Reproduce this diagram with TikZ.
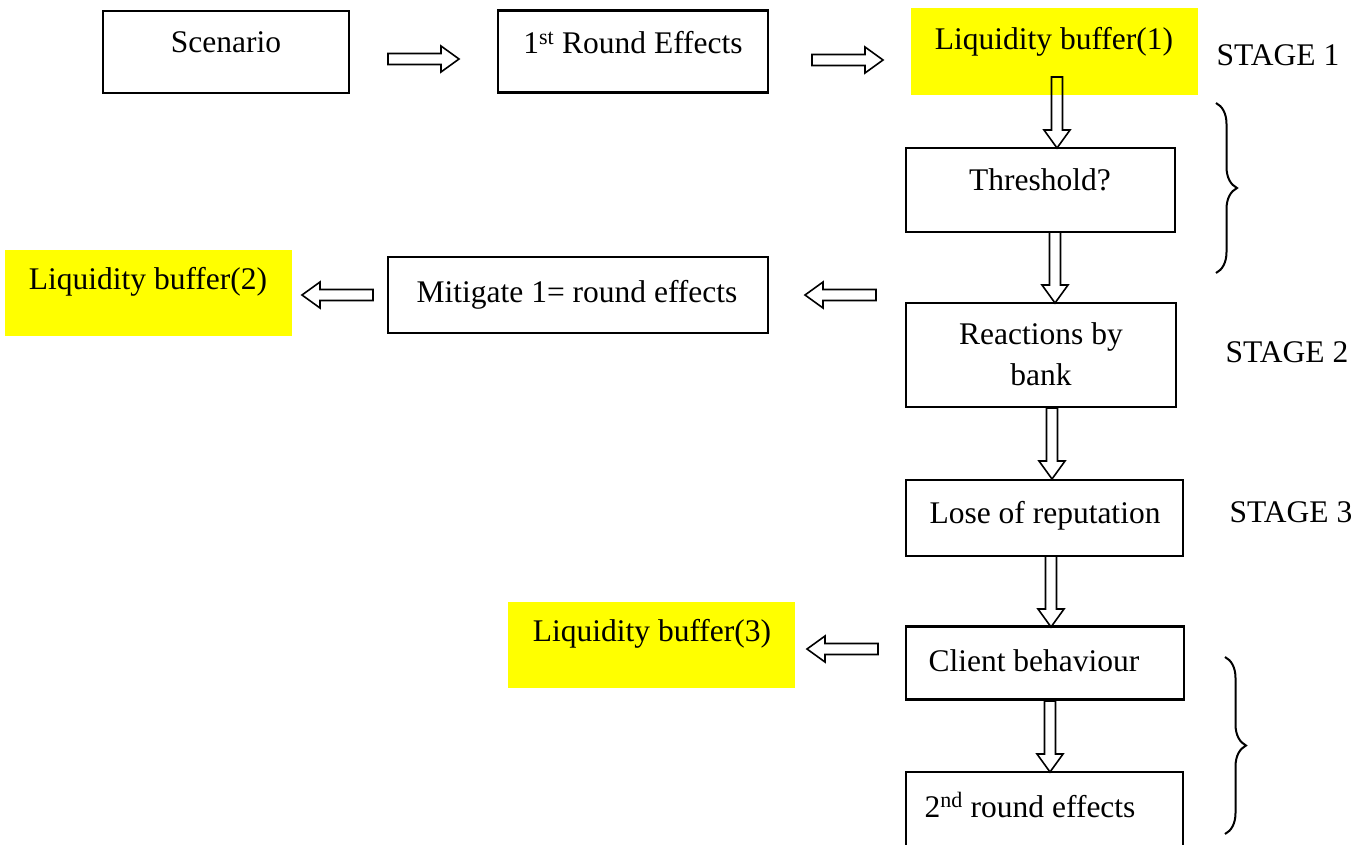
\documentclass[tikz,border=0pt]{standalone}
\usepackage{fontspec}
\setmainfont{Liberation Serif}
\usetikzlibrary{decorations.pathreplacing}
\definecolor{hl}{RGB}{255,255,0}
\tikzset{
  box/.style={draw, line width=2.2pt, inner sep=0pt},
  ybox/.style={fill=hl, inner sep=0pt},
  lbl/.style={inner sep=0pt, font=\fontsize{31.5}{40}\selectfont, align=center},
  blk/.pic={\draw[line width=1.6pt, line join=miter] (0,-5.5) -- (53,-5.5) -- (53,-13) -- (71,0) -- (53,13) -- (53,5.5) -- (0,5.5) -- cycle;},
  brc/.style={decorate, decoration={brace, amplitude=21pt, aspect=0.5}, line width=2pt}
}
\begin{document}
\begin{tikzpicture}[x=1pt,y=-1pt]
\useasboundingbox (0,0) rectangle (1364,844);
\clip (0,0) rectangle (1364,844);
% yellow boxes
\node[ybox, minimum width=287pt, minimum height=87pt] (y1) at (1054.5,51.5) {};
\node[ybox, minimum width=287pt, minimum height=86pt] (y2) at (148.5,293) {};
\node[ybox, minimum width=287pt, minimum height=86pt] (y3) at (651.5,645) {};
\node[lbl] (y1t) at (1054,42) {Liquidity buffer(1)};
\node[lbl] (y2t) at (148,282) {Liquidity buffer(2)};
\node[lbl] (y3t) at (652,634) {Liquidity buffer(3)};
% boxes
\node[box, minimum width=246pt, minimum height=82pt] (scen) at (226,52) {};
\node[lbl] (scent) at (226,42) {Scenario};
\node[box, minimum width=270pt, minimum height=82pt] (first) at (633,51.5) {};
\node[lbl] (firstt) at (633,43) {1\textsuperscript{st} Round Effects};
\node[box, minimum width=269pt, minimum height=84pt] (thr) at (1040.5,190) {};
\node[lbl] (thrt) at (1040,180) {Threshold?};
\node[box, minimum width=270pt, minimum height=104pt] (reac) at (1041,355) {};
\node[lbl] (react) at (1041,354) {Reactions by\\[1pt]bank};
\node[box, minimum width=380pt, minimum height=76pt] (mit) at (578,295) {};
\node[lbl] (mitt) at (577,295) {Mitigate 1= round effects};
\node[box, minimum width=277pt, minimum height=76pt] (lose) at (1044.5,518) {};
\node[lbl] (loset) at (1045,516) {Lose of reputation};
\node[box, minimum width=278pt, minimum height=73pt] (cli) at (1045,663) {};
\node[lbl] (clit) at (1034,661) {Client behaviour};
\node[box, minimum width=277pt, minimum height=128pt] (sec) at (1044.5,836) {};
\node[lbl] (sect) at (1030,805) {2\textsuperscript{nd} round effects};
% stage labels
\node[lbl] (s1) at (1278,55) {STAGE 1};
\node[lbl] (s2) at (1287,352) {STAGE 2};
\node[lbl] (s3) at (1291,512) {STAGE 3};
% block arrows
\pic at (388,59) {blk};
\pic at (812,60) {blk};
\pic[rotate=180] at (876,295) {blk};
\pic[rotate=180] at (373,295) {blk};
\pic[rotate=180] at (878,649) {blk};
\pic[rotate=-90] at (1057,77) {blk};
\pic[rotate=-90] at (1055,232) {blk};
\pic[rotate=-90] at (1052,408) {blk};
\pic[rotate=-90] at (1051,556) {blk};
\pic[rotate=-90] at (1050,701) {blk};
% braces
\coordinate (b1a) at (1216,103);
\coordinate (b1b) at (1216,273);
\coordinate (b2a) at (1225,657);
\coordinate (b2b) at (1225,834);
\draw[brc] (b1a) -- (b1b);
\draw[brc] (b2a) -- (b2b);
\end{tikzpicture}
\end{document}
